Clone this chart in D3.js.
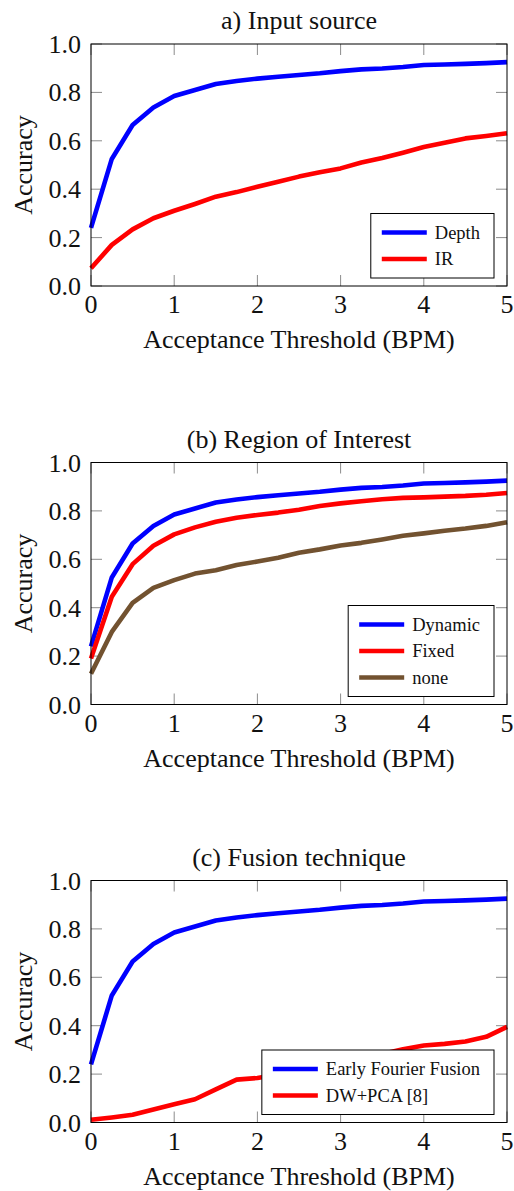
<!DOCTYPE html>
<html>
<head>
<meta charset="utf-8">
<script src="https://cdn.jsdelivr.net/npm/d3@7"></script>
</head>
<body style="margin:0;background:#fff">
<div id="chart"></div>
<script>
// thresholds (BPM)
var thresholds = [0, 0.25, 0.5, 0.75, 1, 1.25, 1.5, 1.75, 2, 2.25, 2.5, 2.75, 3, 3.25, 3.5, 3.75, 4, 4.25, 4.5, 4.75, 5];
var xTicks = [0, 1, 2, 3, 4, 5];
var yTicks = [0, 0.2, 0.4, 0.6, 0.8, 1.0];

// accuracy curves
var depth   = [0.24, 0.525, 0.665, 0.738, 0.785, 0.81, 0.835, 0.847, 0.857, 0.865, 0.872, 0.879, 0.888, 0.895, 0.899, 0.905, 0.913, 0.915, 0.918, 0.921, 0.925];
var ir      = [0.073, 0.17, 0.234, 0.28, 0.311, 0.339, 0.369, 0.388, 0.41, 0.431, 0.452, 0.47, 0.486, 0.51, 0.529, 0.551, 0.574, 0.592, 0.61, 0.62, 0.631];
var fixed   = [0.19, 0.445, 0.58, 0.656, 0.703, 0.732, 0.755, 0.772, 0.783, 0.793, 0.805, 0.82, 0.831, 0.84, 0.848, 0.854, 0.856, 0.859, 0.862, 0.867, 0.874];
var noneRoi = [0.127, 0.30, 0.42, 0.482, 0.514, 0.541, 0.555, 0.576, 0.591, 0.606, 0.627, 0.641, 0.657, 0.668, 0.682, 0.697, 0.707, 0.718, 0.727, 0.738, 0.753];
var dwPca   = [0.011, 0.021, 0.032, 0.054, 0.075, 0.096, 0.137, 0.177, 0.184, 0.198, 0.213, 0.228, 0.245, 0.262, 0.283, 0.303, 0.318, 0.325, 0.335, 0.354, 0.395];

var panels = [
  { title: 'a) Input source', top: 44,
    series: [ { name: 'Depth', values: depth, color: '#0000ff' },
              { name: 'IR', values: ir, color: '#ff0000' } ] },
  { title: '(b) Region of Interest', top: 462.5,
    series: [ { name: 'Dynamic', values: depth, color: '#0000ff' },
              { name: 'Fixed', values: fixed, color: '#ff0000' },
              { name: 'none', values: noneRoi, color: '#725230' } ] },
  { title: '(c) Fusion technique', top: 880.5,
    series: [ { name: 'Early Fourier Fusion', values: depth, color: '#0000ff' },
              { name: 'DW+PCA [8]', values: dwPca, color: '#ff0000' } ] }
];

var W = 514, H = 1191;
var left = 91, right = 507, plotH = 242;
var lineW = 4.6;

var svg = d3.select('#chart').append('svg')
    .attr('width', W)
    .attr('height', H)
    .attr('font-family', 'Liberation Serif')
    .attr('fill', '#111');

var x = d3.scaleLinear().domain([0, 5]).range([left, right]);

panels.forEach(function(p) {
    var y = d3.scaleLinear().domain([0, 1]).range([p.top + plotH, p.top]);
    var g = svg.append('g');

    // ticks, inward on all four sides
    g.selectAll('.xt').data(xTicks).enter().append('path')
        .attr('d', function(d) {
            return 'M' + x(d) + ',' + y(0) + 'v-11M' + x(d) + ',' + y(1) + 'v11';
        })
        .attr('stroke', '#8c8c8c')
        .attr('stroke-width', 1);
    g.selectAll('.yt').data(yTicks).enter().append('path')
        .attr('d', function(d) {
            return 'M' + left + ',' + y(d) + 'h11M' + right + ',' + y(d) + 'h-11';
        })
        .attr('stroke', '#8c8c8c')
        .attr('stroke-width', 1);

    // curves
    var line = d3.line()
        .x(function(d, i) { return x(thresholds[i]); })
        .y(function(d) { return y(d); });
    g.selectAll('.curve').data(p.series).enter().append('path')
        .attr('d', function(s) { return line(s.values); })
        .attr('fill', 'none')
        .attr('stroke', function(s) { return s.color; })
        .attr('stroke-width', lineW)
        .attr('stroke-linejoin', 'round');

    // frame
    g.append('rect')
        .attr('x', left)
        .attr('y', p.top)
        .attr('width', right - left)
        .attr('height', plotH)
        .attr('fill', 'none')
        .attr('stroke', '#000')
        .attr('stroke-width', 1);

    // tick labels
    g.selectAll('.xl').data(xTicks).enter().append('text')
        .attr('x', function(d) { return x(d); })
        .attr('y', y(0) + 27)
        .attr('text-anchor', 'middle')
        .attr('font-size', 26)
        .text(function(d) { return d; });
    g.selectAll('.yl').data(yTicks).enter().append('text')
        .attr('x', 81)
        .attr('y', function(d) { return y(d) + 9; })
        .attr('text-anchor', 'end')
        .attr('font-size', 26)
        .text(d3.format('.1f'));

    // title and axis labels
    g.append('text')
        .attr('x', (left + right) / 2)
        .attr('y', p.top - 15)
        .attr('text-anchor', 'middle')
        .attr('font-size', 26)
        .text(p.title);
    g.append('text')
        .attr('x', (left + right) / 2)
        .attr('y', y(0) + 62)
        .attr('text-anchor', 'middle')
        .attr('font-size', 26)
        .text('Acceptance Threshold (BPM)');
    g.append('text')
        .attr('transform', 'translate(32,' + (p.top + plotH / 2) + ') rotate(-90)')
        .attr('text-anchor', 'middle')
        .attr('font-size', 26)
        .text('Accuracy');

    // legend, bottom right
    var rowH = 26.5, n = p.series.length;
    var lg = g.append('g');
    var box = lg.append('rect')
        .attr('fill', '#fff')
        .attr('stroke', '#000')
        .attr('stroke-width', 1);
    var labels = lg.selectAll('text').data(p.series).enter().append('text')
        .attr('font-size', 18.5)
        .text(function(s) { return s.name; });
    var maxW = d3.max(labels.nodes(), function(n) { return n.getComputedTextLength(); });
    var bw = 64 + maxW + 14;
    var bh = 19 * 2 + rowH * (n - 1);
    var bx = right - 13 - bw;
    var by = y(0) - 8 - bh;
    box.attr('x', bx).attr('y', by).attr('width', bw).attr('height', bh);
    labels
        .attr('x', bx + 64)
        .attr('y', function(s, i) { return by + 19 + i * rowH + 6; });
    lg.selectAll('line').data(p.series).enter().append('line')
        .attr('x1', bx + 11)
        .attr('x2', bx + 56)
        .attr('y1', function(s, i) { return by + 19 + i * rowH; })
        .attr('y2', function(s, i) { return by + 19 + i * rowH; })
        .attr('stroke', function(s) { return s.color; })
        .attr('stroke-width', lineW);
});
</script>
</body>
</html>
